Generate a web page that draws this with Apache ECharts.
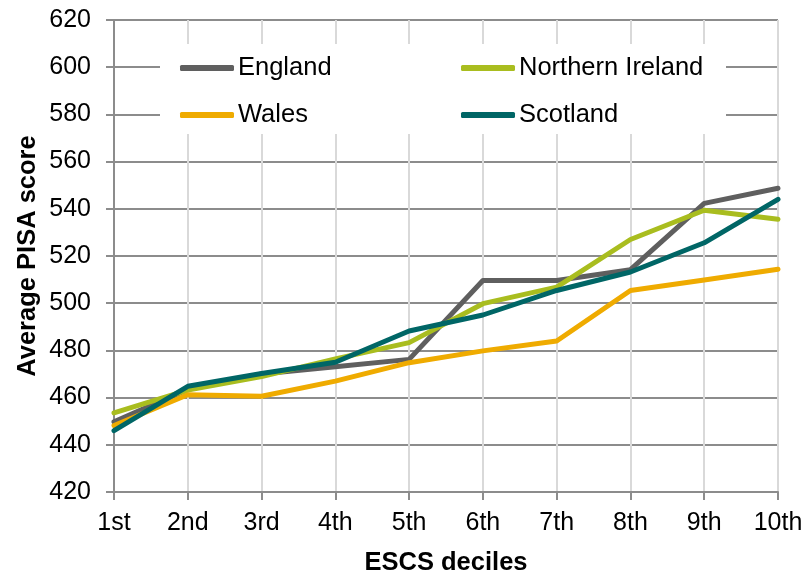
<!DOCTYPE html>
<html><head><meta charset="utf-8">
<script src="https://cdn.jsdelivr.net/npm/echarts@6/dist/echarts.min.js"></script>
<style>html,body{margin:0;padding:0;background:#fff}#c{width:805px;height:576px}</style>
</head><body><div id="c"></div>
<script>
const categories = ['1st','2nd','3rd','4th','5th','6th','7th','8th','9th','10th'];
const england = [449.7, 463.5, 470, 473.1, 476.2, 509.6, 509.6, 514.2, 542.3, 548.7];
const northernIreland = [453.5, 463.2, 468.9, 476.4, 483.3, 499.8, 506.8, 527.0, 539.4, 535.6];
const wales = [448.2, 461.2, 460.6, 467.0, 474.8, 479.8, 484.0, 505.4, 509.8, 514.4];
const scotland = [446.0, 464.8, 470.2, 475.0, 488.2, 495.0, 505.4, 513.2, 525.6, 544.0];
const yTicks = {min: 420, max: 620, interval: 20};

const font = '"Liberation Sans", Arial, sans-serif';
const FS = 25;
const TS = 25.5;
const chart = echarts.init(document.getElementById('c'));
function s(name, data, color){
  return {name, type:'line', data, symbol:'none', z:3,
    lineStyle:{color, width:5, cap:'round', join:'round'}, itemStyle:{color}};
}
const legendCommon = {orient:'vertical', top:55, itemWidth:54, itemHeight:6, itemGap:21, z:5,
  icon:'roundRect', padding:0,
  textStyle:{fontFamily:font, fontSize:TS, color:'#000', padding:[0,0,0,-1], lineHeight:25}};
chart.setOption({
  animation:false,
  grid:{left:114, right:27, top:20, bottom:84, containLabel:false, outerBoundsMode:'none'},
  graphic:[{type:'rect', z:1, shape:{x:160, y:44, width:566, height:90}, style:{fill:'#fff'}}],
  legend:[
    Object.assign({left:180, data:['England','Wales']}, legendCommon),
    Object.assign({left:461, data:['Northern Ireland','Scotland']}, legendCommon)
  ],
  xAxis:{type:'category', data:categories, boundaryGap:false,
    name:'ESCS deciles', nameLocation:'middle', nameGap:58, nameMoveOverlap:false,
    nameTextStyle:{fontFamily:font, fontSize:TS, fontWeight:'bold', color:'#000'},
    axisLine:{lineStyle:{color:'#8c8c8c', width:2}},
    axisTick:{show:true, length:8, alignWithLabel:true, lineStyle:{color:'#8c8c8c', width:2}},
    axisLabel:{fontFamily:font, fontSize:FS, color:'#000', margin:19, interval:0},
    splitLine:{show:true, lineStyle:{color:'#d9d9d9', width:2}}
  },
  yAxis:{type:'value', min:yTicks.min, max:yTicks.max, interval:yTicks.interval,
    name:'Average PISA score', nameLocation:'middle', nameGap:73, nameRotate:90, nameMoveOverlap:false,
    nameTextStyle:{fontFamily:font, fontSize:TS, fontWeight:'bold', color:'#000'},
    axisLine:{show:true, lineStyle:{color:'#8c8c8c', width:2}},
    axisTick:{show:true, length:8, lineStyle:{color:'#8c8c8c', width:2}},
    axisLabel:{fontFamily:font, fontSize:FS, color:'#000', margin:23},
    splitLine:{show:true, lineStyle:{color:'#8c8c8c', width:2}}
  },
  series:[
    s('England', england, '#5f5f5f'),
    s('Northern Ireland', northernIreland, '#a9bd1f'),
    s('Wales', wales, '#efab00'),
    s('Scotland', scotland, '#006666')
  ]
});
</script></body></html>
